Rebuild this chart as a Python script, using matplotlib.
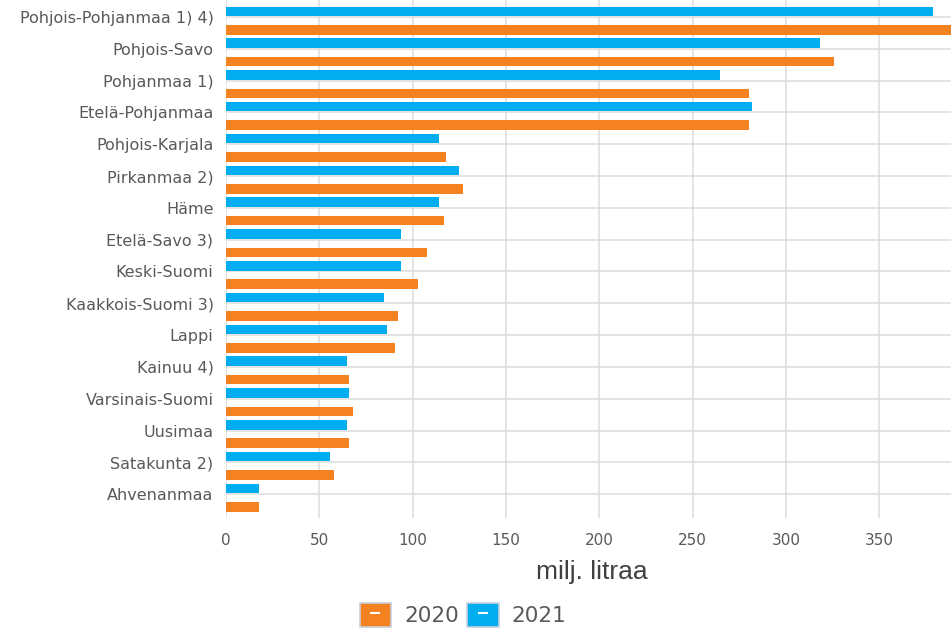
import numpy as np
import matplotlib
matplotlib.use("Agg")
import matplotlib.pyplot as plt
from matplotlib.patches import Patch
from matplotlib.lines import Line2D
from matplotlib.legend_handler import HandlerTuple

# regions, top to bottom
regions = ['Pohjois-Pohjanmaa 1) 4)', 'Pohjois-Savo', 'Pohjanmaa 1)', 'Etelä-Pohjanmaa',
           'Pohjois-Karjala', 'Pirkanmaa 2)', 'Häme', 'Etelä-Savo 3)', 'Keski-Suomi',
           'Kaakkois-Suomi 3)', 'Lappi', 'Kainuu 4)', 'Varsinais-Suomi', 'Uusimaa',
           'Satakunta 2)', 'Ahvenanmaa']
vals_2021 = [379, 318.5, 264.5, 282, 114, 124.7, 114, 94, 93.7, 84.6, 86.5, 65, 65.8, 65, 55.7, 17.7]
vals_2020 = [395, 326, 280, 280.5, 118, 127, 117, 107.6, 103, 92.4, 90.4, 65.8, 68, 66, 58, 17.6]

blue = '#00AEEF'
orange = '#F58220'
txt = '#595959'

fig = plt.figure(figsize=(9.51, 6.31), dpi=100)
ax = fig.add_axes([226 / 951, 1 - 518 / 631, 1 - 226 / 951, 518 / 631])

y = np.arange(len(regions))
ax.barh(y - 0.18, vals_2021, height=0.3, color=blue, zorder=3)
ax.barh(y + 0.40, vals_2020, height=0.3, color=orange, zorder=3)

ax.set_xlim(0, 388.5)
ax.set_ylim(15.75, -0.535)
ax.set_yticks(y)
ax.set_yticklabels(regions)
ax.set_xticks(np.arange(0, 351, 50))
ax.tick_params(length=0, colors=txt)
ax.tick_params(axis='y', pad=9, labelsize=11.5)
ax.tick_params(axis='x', pad=11, labelsize=11)
ax.grid(True, color='#dcdcdc', linewidth=1.1, zorder=0)
for s in ax.spines.values():
    s.set_visible(False)

fig.text(592 / 951, 1 - 572 / 631, 'milj. litraa', ha='center', va='center',
         fontsize=19, color='#404040', family=['Liberation Sans Narrow', 'Liberation Sans', 'DejaVu Sans'])

dash = Line2D([], [], marker='_', color='white', markersize=7, markeredgewidth=1.5, linestyle='none')
h20 = (Patch(facecolor=orange, edgecolor='#c8d0dc', linewidth=1.2), dash)
h21 = (Patch(facecolor=blue, edgecolor='#c8d0dc', linewidth=1.2), dash)
fig.legend([h20, h21], ['2020', '2021'], handler_map={tuple: HandlerTuple(ndivide=1, pad=0)},
           loc='center', bbox_to_anchor=(463 / 951, 1 - 615 / 631), ncol=2, frameon=False,
           fontsize=15.5, labelcolor=txt, handlelength=1.45, handleheight=1.3,
           handletextpad=0.6, columnspacing=0.4)

fig.savefig('out.png', dpi=100, facecolor='white')
